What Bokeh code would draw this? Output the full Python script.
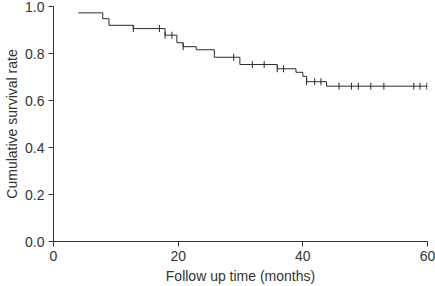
from bokeh.plotting import figure
from bokeh.models import Range1d, FixedTicker, PrintfTickFormatter
from bokeh.embed import file_html
from bokeh.resources import INLINE
import numpy as np

# Kaplan-Meier step curve (time in months, cumulative survival)
step_times = [4.0, 7.9, 8.9, 12.8, 17.9, 19.8, 20.8, 22.9, 25.8, 29.9, 35.9, 38.9, 40.0, 40.6, 43.8, 60.0]
step_surv = [0.973, 0.948, 0.920, 0.906, 0.878, 0.846, 0.829, 0.816, 0.784, 0.753, 0.735, 0.720, 0.703, 0.680, 0.661, 0.661]

# censored observations
censor_times = [12.8, 17.0, 17.9, 19.0, 20.8, 28.9, 31.9, 33.8, 35.9, 36.9, 40.6, 41.9, 42.9,
                45.8, 47.8, 48.9, 50.9, 53.0, 57.8, 58.8, 59.9]
censor_surv = [0.906, 0.906, 0.878, 0.878, 0.829, 0.784, 0.753, 0.753, 0.735, 0.735, 0.680, 0.680, 0.680,
               0.661, 0.661, 0.661, 0.661, 0.661, 0.661, 0.661, 0.661]

x_ticks = [0, 20, 40, 60]
y_ticks = [0.0, 0.2, 0.4, 0.6, 0.8, 1.0]

p = figure(width=435, height=286, output_backend="svg", toolbar_location=None,
           x_range=Range1d(0, 60), y_range=Range1d(0, 1.0),
           min_border_left=53, min_border_right=8, min_border_top=6, min_border_bottom=45)
p.outline_line_color = None
p.xgrid.visible = False
p.ygrid.visible = False
p.background_fill_color = "white"
p.border_fill_color = "white"

p.step(step_times, step_surv, mode="after", line_color="#2a2a2a", line_width=1)
p.scatter(censor_times, censor_surv, marker="dash", angle=np.pi / 2, size=7,
          line_color="#2a2a2a", line_width=1)

for ax in (p.xaxis[0], p.yaxis[0]):
    ax.axis_line_color = "#333333"
    ax.major_tick_line_color = "#333333"
    ax.major_tick_in = 0
    ax.major_tick_out = 5
    ax.minor_tick_line_color = None
    ax.major_label_text_font = "Liberation Sans"
    ax.major_label_text_font_size = "14px"
    ax.major_label_text_color = "#333333"
    ax.axis_label_text_font = "Liberation Sans"
    ax.axis_label_text_font_size = "14px"
    ax.axis_label_text_font_style = "normal"
    ax.axis_label_text_color = "#333333"
    ax.major_label_standoff = 4

p.xaxis.ticker = FixedTicker(ticks=x_ticks)
p.yaxis.ticker = FixedTicker(ticks=y_ticks)
p.yaxis.formatter = PrintfTickFormatter(format="%.1f")
p.xaxis.axis_label = "Follow up time (months)"
p.yaxis.axis_label = "Cumulative survival rate"
p.xaxis.axis_label_standoff = 4
p.yaxis.axis_label_standoff = 2

open("out.html", "w").write(file_html(p, INLINE))
